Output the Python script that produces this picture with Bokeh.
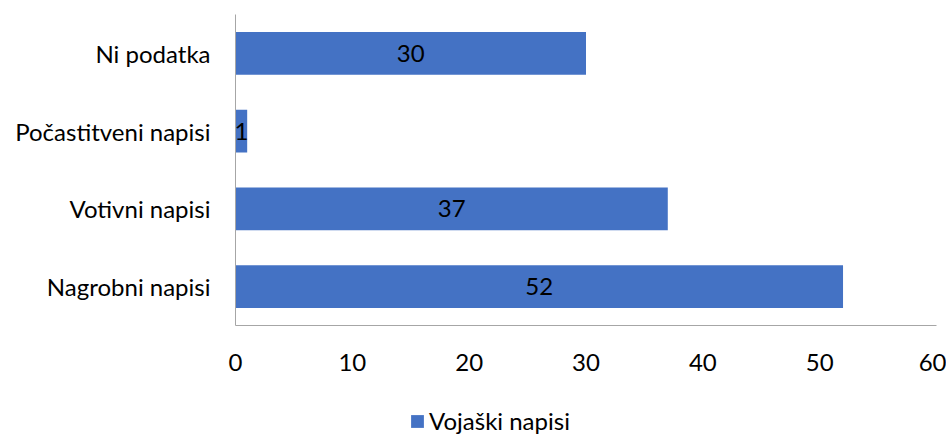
from bokeh.plotting import figure
from bokeh.layouts import column
from bokeh.models import ColumnDataSource, Range1d, FactorRange, Legend, LegendItem, LabelSet, FixedTicker
from bokeh.core.properties import value
from bokeh.embed import file_html
from bokeh.resources import INLINE

categories = ["Nagrobni napisi", "Votivni napisi", "Počastitveni napisi", "Ni podatka"]
values = [52, 37, 1, 30]
series_name = "Vojaški napisi"
x_ticks = [0, 10, 20, 30, 40, 50, 60]

FONT = "Lato"
FS = "24px"
BAR = "#4472C4"

src = ColumnDataSource(dict(cat=categories, val=values,
                            mid=[v / 2 for v in values],
                            lab=[str(v) for v in values]))

p = figure(width=946, height=385, output_backend="svg", toolbar_location=None,
           y_range=FactorRange(*categories), x_range=Range1d(0, 60),
           min_border_left=235, min_border_right=10, min_border_top=14, min_border_bottom=60)
p.outline_line_color = None
p.background_fill_color = "white"
p.border_fill_color = "white"

r = p.hbar(y="cat", right="val", left=0, height=0.55, source=src,
           fill_color=BAR, line_color=None)

labels = LabelSet(x="mid", y="cat", text="lab", source=src,
                  text_align="center", text_baseline="middle",
                  text_font=value(FONT), text_font_size=value(FS), text_color="#000000")
p.add_layout(labels)

p.xgrid.grid_line_color = None
p.ygrid.grid_line_color = None

p.xaxis.ticker = FixedTicker(ticks=x_ticks)
p.xaxis.axis_line_color = "#A6A6A6"
p.xaxis.major_tick_line_color = None
p.xaxis.minor_tick_line_color = None
p.xaxis.major_label_text_font = FONT
p.xaxis.major_label_text_font_size = FS
p.xaxis.major_label_text_color = "#000000"
p.xaxis.major_label_standoff = 22

p.yaxis.axis_line_color = "#A6A6A6"
p.yaxis.major_tick_line_color = None
p.yaxis.minor_tick_line_color = None
p.yaxis.major_label_text_font = FONT
p.yaxis.major_label_text_font_size = FS
p.yaxis.major_label_text_color = "#000000"
p.yaxis.major_label_standoff = 19

# legend strip below the chart (its frame is aligned with the chart's frame)
lg = figure(width=946, height=52, output_backend="svg", toolbar_location=None,
            x_range=Range1d(0, 1), y_range=Range1d(0, 1),
            min_border_left=0, min_border_right=0, min_border_top=0, min_border_bottom=0)
lg.axis.visible = False
lg.grid.visible = False
lg.outline_line_color = None
# invisible proxy renderer (outside the strip's range) that supplies the legend swatch
proxy = lg.hbar(y="val", right=0, left=0, height=0.5, source=src,
                fill_color=BAR, line_color=None)
legend = Legend(items=[LegendItem(label=series_name, renderers=[proxy])],
                orientation="horizontal", location=(174, 2),
                border_line_color=None, background_fill_alpha=0,
                label_text_font=FONT, label_text_font_size=FS,
                label_text_color="#000000",
                glyph_width=16, glyph_height=16, label_standoff=4,
                padding=0, margin=0)
lg.add_layout(legend)

open("out.html", "w").write(file_html(column(p, lg, spacing=0), INLINE))
